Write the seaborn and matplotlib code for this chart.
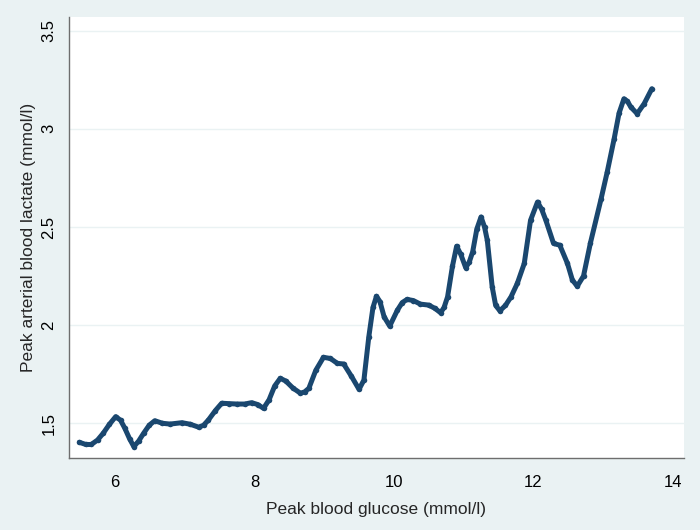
import numpy as np
import pandas as pd
import seaborn as sns
import matplotlib
matplotlib.use("Agg")
import matplotlib.pyplot as plt

# values
glucose = [5.49, 5.58, 5.66, 5.75, 5.83, 5.92, 6.01, 6.08, 6.14, 6.21,
           6.27, 6.34, 6.41, 6.49, 6.57, 6.68, 6.79, 6.96, 7.08, 7.20,
           7.27, 7.34, 7.44, 7.53, 7.64, 7.75, 7.86, 7.96, 8.05, 8.13,
           8.21, 8.29, 8.37, 8.45, 8.55, 8.66, 8.72, 8.78, 8.88, 8.99,
           9.09, 9.19, 9.28, 9.39, 9.50, 9.57, 9.64, 9.70, 9.75, 9.80,
           9.86, 9.94, 10.05, 10.12, 10.19, 10.28, 10.38, 10.50, 10.59, 10.67,
           10.72, 10.77, 10.84, 10.90, 10.96, 11.03, 11.08, 11.13, 11.19, 11.25,
           11.30, 11.34, 11.41, 11.46, 11.52, 11.60, 11.68, 11.77, 11.87, 11.96,
           12.06, 12.12, 12.18, 12.29, 12.38, 12.49, 12.56, 12.63, 12.72, 12.82,
           12.97, 13.06, 13.16, 13.23, 13.30, 13.35, 13.40, 13.49, 13.59, 13.70]
lactate = [1.403, 1.392, 1.392, 1.415, 1.449, 1.495, 1.534, 1.515, 1.475, 1.420,
           1.381, 1.410, 1.449, 1.490, 1.513, 1.500, 1.496, 1.503, 1.495, 1.480,
           1.490, 1.517, 1.565, 1.602, 1.600, 1.598, 1.598, 1.605, 1.595, 1.576,
           1.620, 1.690, 1.729, 1.715, 1.680, 1.653, 1.660, 1.678, 1.770, 1.836,
           1.830, 1.805, 1.802, 1.740, 1.673, 1.720, 1.940, 2.090, 2.147, 2.120,
           2.042, 1.995, 2.076, 2.115, 2.131, 2.125, 2.107, 2.102, 2.085, 2.063,
           2.090, 2.144, 2.300, 2.402, 2.360, 2.293, 2.320, 2.373, 2.490, 2.551,
           2.500, 2.432, 2.195, 2.100, 2.073, 2.100, 2.144, 2.212, 2.314, 2.534,
           2.627, 2.590, 2.534, 2.416, 2.407, 2.314, 2.230, 2.198, 2.250, 2.420,
           2.640, 2.780, 2.950, 3.080, 3.153, 3.140, 3.110, 3.077, 3.128, 3.204]

xticks = [6, 8, 10, 12, 14]
yticks = [1.5, 2, 2.5, 3, 3.5]
ytick_labels = ["1.5", "2", "2.5", "3", "3.5"]

df = pd.DataFrame({"glucose": glucose, "lactate": lactate})

bg = "#EAF2F3"
navy = "#1a476f"
axis_grey = "#6e6e6e"

sns.set_style("white")
plt.rcParams["font.family"] = ["Liberation Sans", "DejaVu Sans"]

fig = plt.figure(figsize=(7, 5.3), dpi=100, facecolor=bg)
ax = fig.add_axes([0.0986, 0.1358, 0.8784, 0.8312])
ax.set_facecolor("white")

sns.lineplot(data=df, x="glucose", y="lactate", ax=ax, estimator=None, sort=False,
             color=navy, linewidth=3.6, marker="o", markersize=4.0,
             markeredgewidth=0, markerfacecolor=navy)

ax.set_xlim(5.34, 14.16)
ax.set_ylim(1.323, 3.567)
ax.set_xticks(xticks)
ax.set_yticks(yticks)
ax.set_yticklabels(ytick_labels, rotation=90, va="center")

for v in yticks:
    ax.axhline(v, color=bg, linewidth=1.0, zorder=0)

for side in ["top", "right"]:
    ax.spines[side].set_visible(False)
for side in ["left", "bottom"]:
    ax.spines[side].set_color(axis_grey)
    ax.spines[side].set_linewidth(1.0)

ax.tick_params(axis="both", direction="out", length=5, width=0.9, color=axis_grey,
               labelsize=12, labelcolor="black")
ax.tick_params(axis="x", pad=7)
ax.tick_params(axis="y", pad=4)

ax.set_xlabel("Peak blood glucose (mmol/l)", fontsize=12.5, labelpad=9)
ax.set_ylabel("Peak arterial blood lactate (mmol/l)", fontsize=12.5, labelpad=4)

fig.savefig("out.png", dpi=100, facecolor=bg)
